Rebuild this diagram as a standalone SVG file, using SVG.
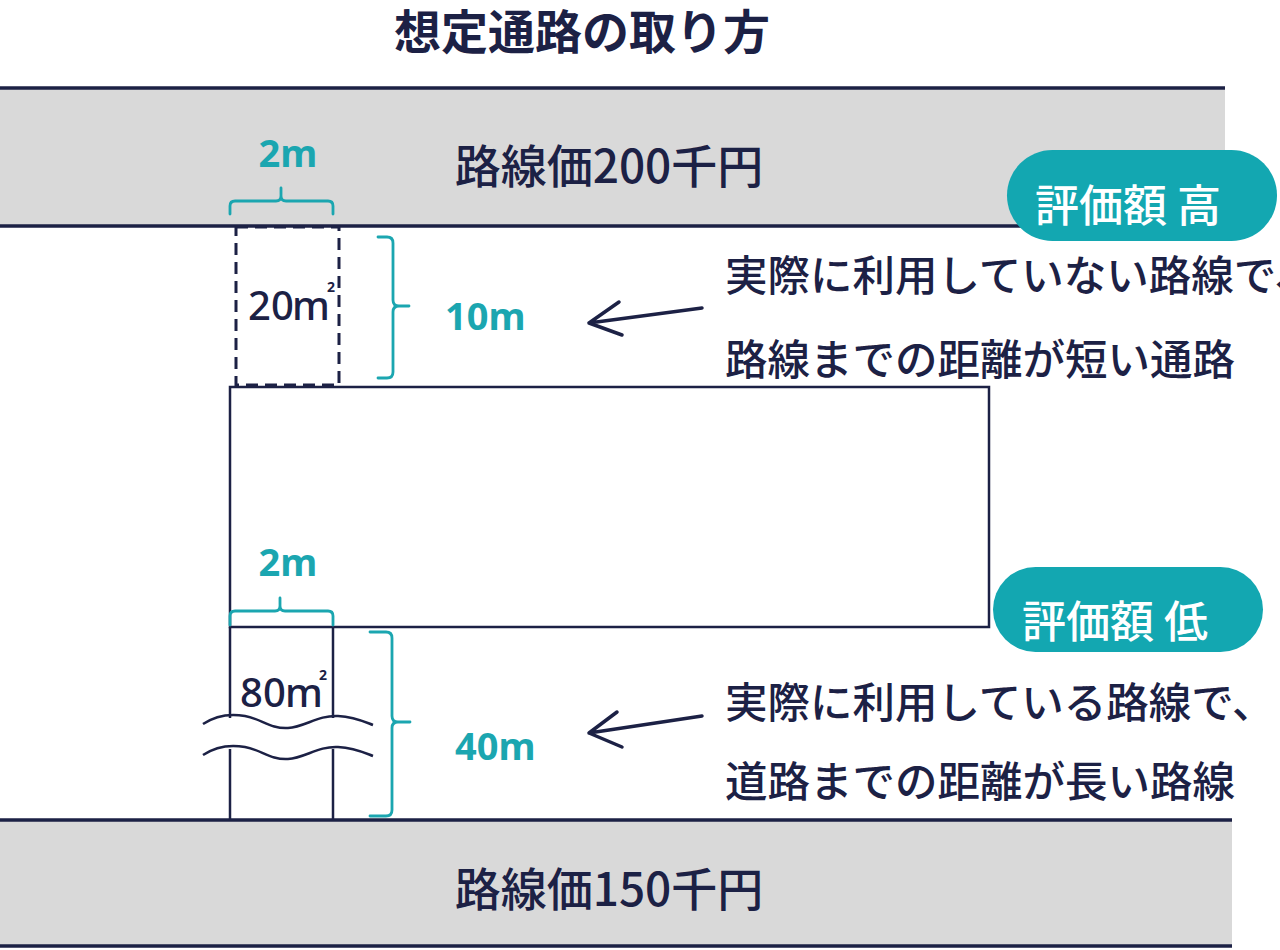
<svg xmlns="http://www.w3.org/2000/svg" width="1280" height="950" viewBox="0 0 1280 950">
  <style>
    .jp { font-family: "Noto Sans CJK JP", "Noto Sans", sans-serif; }
    .lat { font-family: "Noto Sans", "Liberation Sans", sans-serif; }
    .title { font-size: 47px; font-weight: 700; fill: #1c2145; }
    .road-label { font-size: 46px; font-weight: 500; fill: #1c2145; }
    .note { font-size: 42.5px; font-weight: 500; fill: #1c2145; }
    .dim { font-size: 38px; font-weight: 700; fill: #1ba6b0; }
    .area { font-size: 40px; font-weight: 500; fill: #1c2145; }
    .sup { font-size: 14px; font-weight: 700; fill: #1c2145; }
    .badge-text { font-size: 44px; font-weight: 500; fill: #ffffff; }
    .road { fill: #d9d9d9; }
    .edge { stroke: #1c2145; stroke-width: 3.5; fill: none; }
    .line { stroke: #1c2145; stroke-width: 2.5; fill: none; }
    .dash { stroke: #1c2145; stroke-width: 3; fill: none; stroke-dasharray: 12 7; }
    .brace { stroke: #1ba6b0; stroke-width: 2.8; fill: none; stroke-linecap: round; stroke-linejoin: round; }
    .arrow { stroke: #1c2145; stroke-width: 3.5; fill: none; stroke-linecap: round; stroke-linejoin: round; }
    .badge { fill: #13a7b1; }
  </style>

  <rect width="1280" height="950" fill="#ffffff"/>

  <g id="title">
    <text class="jp title" x="582" y="28" text-anchor="middle" dominant-baseline="central">想定通路の取り方</text>
  </g>

  <g id="road-top">
    <rect class="road" x="0" y="88" width="1225" height="138"/>
    <line class="edge" x1="0" y1="88" x2="1225" y2="88"/>
    <line class="edge" x1="0" y1="226" x2="1225" y2="226"/>
    <text class="jp road-label" x="609" y="163" text-anchor="middle" dominant-baseline="central">路線価200千円</text>
  </g>

  <g id="road-bottom">
    <rect class="road" x="0" y="820" width="1232" height="126"/>
    <line class="edge" x1="0" y1="820" x2="1232" y2="820"/>
    <line class="edge" x1="0" y1="946" x2="1232" y2="946"/>
    <text class="jp road-label" x="609" y="886" text-anchor="middle" dominant-baseline="central">路線価150千円</text>
  </g>

  <g id="site">
    <rect class="line" x="230" y="387" width="759" height="240"/>
  </g>

  <g id="passage-top">
    <rect class="dash" x="236" y="227" width="103" height="158"/>
    <text class="lat area" x="248" y="320">20</text>
    <text class="lat area" x="292" y="320">m</text>
    <text class="lat sup" x="327" y="292">2</text>
  </g>

  <g id="passage-bottom">
    <line class="line" x1="230" y1="627" x2="230" y2="718"/>
    <line class="line" x1="333" y1="627" x2="333" y2="718"/>
    <line class="line" x1="230" y1="749" x2="230" y2="820"/>
    <line class="line" x1="333" y1="749" x2="333" y2="820"/>
    <path class="line" d="M203,724 C215,716 228,713 245,716 C262,719 270,729 288,728 C305,727 318,715 338,716 C355,717 365,722 373,725"/>
    <path class="line" d="M203,755 C215,747 228,744 245,747 C262,750 270,760 288,759 C305,758 318,746 338,747 C355,748 365,753 373,756"/>
    <text class="lat area" x="240" y="707">80</text>
    <text class="lat area" x="285" y="707">m</text>
    <text class="lat sup" x="319" y="680">2</text>
  </g>

  <g id="dimensions">
    <text class="lat dim" x="288" y="167" text-anchor="middle">2m</text>
    <path class="brace" d="M230,214 L230,206 Q230,201 235,201 L276,201 Q281,201 281,196 L281,188 M281,196 Q281,201 286,201 L328,201 Q333,201 333,206 L333,214"/>
    <path class="brace" d="M378,237 L387,237 Q393,237 393,243 L393,300 Q393,306 399,306 L409,306 M399,306 Q393,306 393,312 L393,372 Q393,378 387,378 L378,378"/>
    <text class="lat dim" x="445" y="330">10m</text>

    <text class="lat dim" x="288" y="576" text-anchor="middle">2m</text>
    <path class="brace" d="M230,625 L230,616 Q230,611 235,611 L275,611 Q280,611 280,606 L280,598 M280,606 Q280,611 285,611 L328,611 Q333,611 333,616 L333,625"/>
    <path class="brace" d="M370,632 L386,632 Q392,632 392,638 L392,716 Q392,722 398,722 L410,722 M398,722 Q392,722 392,728 L392,810 Q392,816 386,816 L370,816"/>
    <text class="lat dim" x="455" y="760">40m</text>
  </g>

  <g id="connectors">
    <path class="arrow" d="M702,308 L589,323 M619,302 L589,323 L622,335"/>
    <path class="arrow" d="M702,716 L589,733 M617,712 L589,733 L622,747"/>
  </g>

  <g id="note-top">
    <text class="jp note" x="725" y="272" dominant-baseline="central">実際に利用していない路線で、</text>
    <text class="jp note" x="725" y="356" dominant-baseline="central">路線までの距離が短い通路</text>
  </g>

  <g id="note-bottom">
    <text class="jp note" x="725" y="699" dominant-baseline="central">実際に利用している路線で、</text>
    <text class="jp note" x="725" y="778" dominant-baseline="central">道路までの距離が長い路線</text>
  </g>

  <g id="badge-high">
    <rect class="badge" x="1007" y="150" width="270" height="91" rx="45.5"/>
    <text class="jp badge-text" x="1128" y="203" text-anchor="middle" dominant-baseline="central">評価額 高</text>
  </g>

  <g id="badge-low">
    <rect class="badge" x="993" y="567" width="270" height="85" rx="42.5"/>
    <text class="jp badge-text" x="1115" y="619" text-anchor="middle" dominant-baseline="central">評価額 低</text>
  </g>
</svg>
